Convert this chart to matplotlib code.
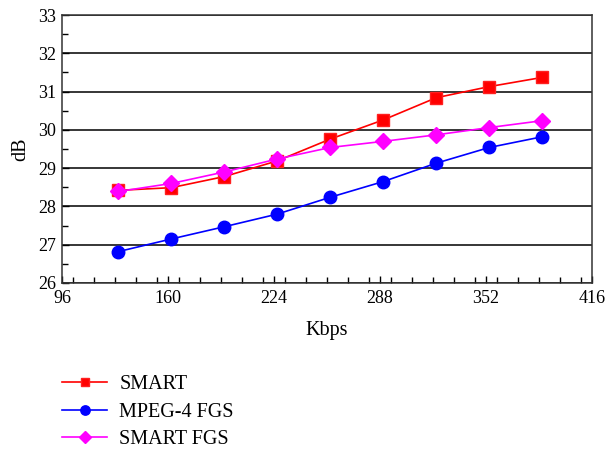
import matplotlib
matplotlib.use("Agg")
import matplotlib.pyplot as plt
from matplotlib.ticker import MultipleLocator

plt.rcParams['font.family'] = ['Liberation Serif', 'DejaVu Serif']

kbps = [130, 162, 194, 226, 258, 290, 322, 354, 386]
smart = [28.42, 28.49, 28.78, 29.19, 29.76, 30.26, 30.84, 31.13, 31.37]
mpeg4_fgs = [26.82, 27.15, 27.47, 27.80, 28.24, 28.65, 29.13, 29.54, 29.82]
smart_fgs = [28.39, 28.60, 28.90, 29.24, 29.54, 29.70, 29.87, 30.06, 30.24]
xticks = [96, 160, 224, 288, 352, 416]
yticks = [26, 27, 28, 29, 30, 31, 32, 33]

fig = plt.figure(figsize=(6.09, 4.50), dpi=100)
ax = fig.add_axes([62/609, 1-283/450, 530/609, 268/450])

ax.plot(kbps, smart, color='#ff0000', lw=1.2, marker='s', ms=8.5,
        mfc='#ff0000', mec='#ff2020', label='SMART', zorder=3)
ax.plot(kbps, mpeg4_fgs, color='#0000ff', lw=1.2, marker='o', ms=9,
        mfc='#0000ff', mec='#0000ff', label='MPEG-4 FGS', zorder=3)
ax.plot(kbps, smart_fgs, color='#ff00ff', lw=1.2, marker='D', ms=8,
        mfc='#ff00ff', mec='#ff00ff', label='SMART FGS', zorder=4)

ax.set_xlim(96, 416)
ax.set_ylim(26, 33)
ax.set_xticks(xticks)
ax.set_yticks(yticks)
ax.xaxis.set_minor_locator(MultipleLocator(12.8))
ax.yaxis.set_minor_locator(MultipleLocator(0.5))
ax.tick_params(which='both', direction='in', labelsize=13, color='black')
ax.tick_params(which='major', length=5, width=1)
ax.tick_params(which='minor', length=4, width=1)
ax.tick_params(axis='x', pad=5)
ax.tick_params(axis='y', pad=4)
ax.grid(axis='y', which='major', color='black', lw=1.1)
for s in ax.spines.values():
    s.set_color('#333333')
    s.set_linewidth(1.1)

ax.set_xlabel('Kbps', fontsize=14.5, labelpad=10)
ax.set_ylabel('dB', fontsize=14.5, labelpad=6)

handles, labels = ax.get_legend_handles_labels()
fig.legend(handles, labels, loc='upper left', bbox_to_anchor=(62/609, 1-375/450),
           frameon=False, fontsize=14.5, handlelength=2.25, handletextpad=0.6,
           labelspacing=0.42, borderpad=0, borderaxespad=0, markerscale=0.75)

fig.savefig('out.png', dpi=100)
